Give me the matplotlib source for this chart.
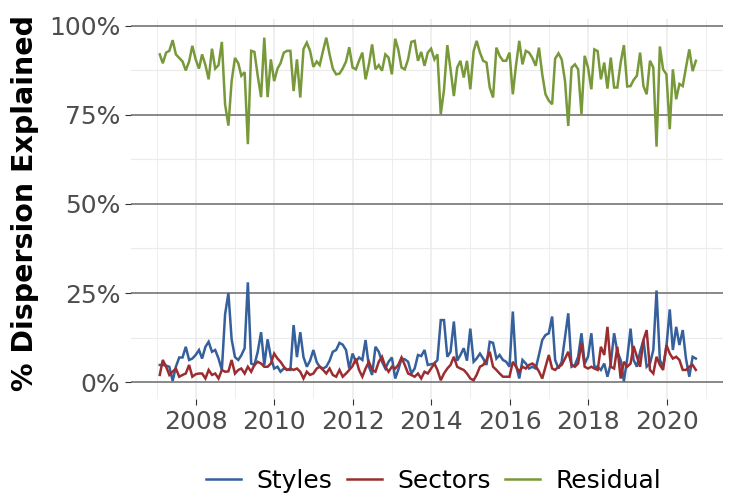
import matplotlib
matplotlib.use("Agg")
import matplotlib.pyplot as plt
import matplotlib.dates as mdates
import pandas as pd

# monthly, Jan 2007 .. Sep 2020 (month-end)
dates = pd.date_range("2007-01-31", periods=165, freq="ME")

styles = [4.8, 4.8, 4.6, 4.3, 0.3, 4.3, 6.9, 6.9, 9.9, 6.2, 6.6, 7.6, 9.0, 6.6, 9.9, 11.3, 8.5, 9.0, 6.6, 3.4,
          19.0, 25.0, 12.0, 7.0, 6.2, 7.5, 9.5, 28.0, 5.2, 4.8, 8.5, 14.0, 4.8, 12.0, 7.0, 3.8, 4.3, 2.9, 3.8, 3.5,
          3.4, 16.0, 7.0, 14.0, 7.0, 4.3, 6.0, 9.0, 5.6, 4.3, 3.8, 4.3, 6.0, 8.5, 9.0, 11.0, 10.5, 9.0, 3.8, 8.0,
          5.7, 6.9, 6.2, 11.8, 4.3, 2.0, 9.9, 8.5, 5.7, 3.8, 5.7, 6.9, 1.0, 3.4, 6.6, 6.4, 5.7, 2.4, 3.8, 7.6,
          7.3, 9.0, 4.8, 5.0, 5.2, 6.2, 17.4, 17.4, 7.1, 8.5, 17.0, 6.0, 7.6, 9.5, 6.0, 15.0, 5.7, 6.6, 8.0, 6.6,
          4.8, 11.3, 11.0, 6.6, 7.6, 6.2, 5.7, 4.3, 19.8, 4.8, 1.0, 6.2, 5.2, 3.8, 4.3, 3.8, 7.6, 11.8, 13.2, 13.7,
          18.4, 6.2, 3.8, 5.7, 12.7, 19.3, 4.3, 4.8, 7.1, 13.7, 5.2, 7.1, 13.7, 4.3, 4.3, 3.4, 5.2, 1.5, 5.2, 13.7,
          8.5, 6.2, 0.2, 6.6, 15.0, 6.2, 4.3, 8.5, 11.8, 4.3, 5.2, 9.0, 25.7, 6.2, 4.3, 9.9, 20.4, 9.0, 15.5, 10.4,
          14.6, 6.6, 1.5, 7.1, 6.6]

sectors = [2.0, 6.2, 4.3, 2.0, 2.9, 3.8, 1.5, 2.0, 2.4, 4.8, 1.5, 2.2, 2.4, 2.4, 1.0, 3.4, 2.0, 2.4, 1.0, 3.4,
           2.9, 3.0, 6.2, 2.4, 3.4, 3.8, 2.4, 4.3, 2.9, 4.8, 5.7, 5.2, 4.3, 4.3, 5.2, 8.0, 6.6, 5.7, 4.3, 3.4,
           3.8, 3.4, 3.8, 2.9, 1.0, 2.9, 2.0, 2.4, 3.8, 4.3, 3.4, 2.4, 3.8, 2.0, 1.5, 3.4, 1.5, 2.4, 3.4, 4.5,
           6.6, 3.4, 1.5, 3.8, 5.7, 3.4, 2.9, 5.7, 7.1, 4.3, 2.9, 4.3, 3.8, 4.8, 6.9, 4.8, 2.4, 2.0, 1.5, 2.4,
           1.0, 2.9, 2.4, 3.8, 5.2, 3.4, 0.5, 2.4, 3.8, 4.8, 7.1, 4.3, 3.8, 3.4, 2.4, 1.0, 0.5, 2.0, 4.3, 4.8,
           6.2, 8.5, 4.3, 3.4, 2.4, 1.5, 1.5, 1.5, 5.7, 4.3, 2.9, 4.3, 3.8, 4.8, 5.2, 4.5, 3.0, 1.0, 4.3, 7.6,
           3.8, 3.4, 4.3, 4.8, 6.6, 8.5, 4.8, 4.3, 5.2, 10.9, 4.3, 3.8, 4.3, 3.8, 3.4, 9.9, 7.6, 15.5, 4.3, 3.8,
           9.9, 1.0, 5.7, 4.3, 5.2, 10.1, 7.1, 4.3, 11.8, 14.6, 3.4, 2.4, 7.1, 4.8, 3.4, 10.4, 8.0, 6.6, 7.1, 6.2,
           3.4, 3.4, 4.3, 4.8, 3.4]

residual = [92.0, 89.5, 92.5, 93.0, 96.0, 92.0, 91.0, 90.0, 87.5, 90.0, 94.4, 90.6, 88.0, 92.0, 89.0, 85.0, 93.6, 88.0, 89.0, 95.5,
            78.0, 72.0, 84.5, 91.0, 89.5, 86.0, 87.0, 66.8, 93.0, 92.7, 86.0, 80.0, 96.7, 80.0, 90.6, 84.5, 88.0, 89.5, 92.5, 93.0,
            93.0, 81.7, 90.6, 79.9, 93.5, 95.3, 93.0, 88.5, 90.0, 89.0, 93.0, 96.7, 92.0, 88.0, 86.4, 86.6, 88.0, 90.0, 94.0, 88.3,
            87.8, 90.2, 92.5, 85.0, 89.2, 94.8, 87.8, 89.0, 87.4, 92.0, 91.1, 86.4, 96.4, 93.4, 88.3, 87.8, 90.6, 95.5, 95.8, 90.2,
            92.7, 88.8, 92.5, 93.6, 90.6, 92.0, 75.2, 82.0, 94.6, 87.8, 80.3, 88.3, 90.2, 85.5, 90.2, 82.2, 92.9, 95.8, 92.5, 90.2,
            89.7, 82.7, 79.9, 93.9, 91.6, 90.2, 90.2, 92.5, 80.8, 88.8, 95.8, 89.2, 93.0, 92.5, 91.0, 88.8, 93.9, 86.4, 80.8, 79.0,
            78.0, 90.8, 92.3, 90.6, 84.5, 71.9, 88.3, 89.2, 87.8, 75.2, 91.6, 88.3, 82.2, 93.4, 92.9, 85.0, 89.7, 82.4, 91.1, 82.7,
            82.7, 89.7, 94.6, 83.0, 83.1, 84.8, 86.0, 92.5, 83.1, 80.8, 90.2, 88.3, 66.1, 94.2, 87.8, 86.4, 71.0, 87.8, 79.4, 83.7,
            83.1, 88.3, 93.4, 87.3, 90.2]

series = ["Styles", "Sectors", "Residual"]
colors = {"Styles": "#35609b", "Sectors": "#9b2d30", "Residual": "#77993a"}

fig = plt.figure(figsize=(7.3, 4.94), dpi=100)
ax = fig.add_axes([0.179, 0.192, 0.811, 0.770])

for name, vals in zip(series, [styles, sectors, residual]):
    ax.plot(dates, vals, color=colors[name], lw=1.8, label=name, solid_joinstyle="miter")

ax.set_ylim(-4.8, 102)
ax.set_xlim(pd.Timestamp("2006-05-05"), pd.Timestamp("2021-06-07"))
ax.set_yticks([0, 25, 50, 75, 100])
ax.set_yticklabels(["0%", "25%", "50%", "75%", "100%"])
ax.set_yticks([12.5, 37.5, 62.5, 87.5], minor=True)
ax.xaxis.set_major_locator(mdates.YearLocator(2, month=1, day=1))
ax.xaxis.set_major_formatter(mdates.DateFormatter("%Y"))
ax.xaxis.set_minor_locator(mdates.YearLocator(1, month=1, day=1))

ax.grid(which="major", axis="y", color="#7f7f7f", lw=1.3)
ax.grid(which="minor", axis="y", color="#ebebeb", lw=0.8)
ax.grid(which="major", axis="x", color="#ebebeb", lw=1.1)
ax.grid(which="minor", axis="x", color="#ebebeb", lw=0.6)
ax.set_axisbelow(True)
for s in ax.spines.values():
    s.set_visible(False)

ax.tick_params(axis="both", which="major", labelsize=18, labelcolor="#4d4d4d",
               color="#333333", length=4, width=0.8)
ax.tick_params(axis="both", which="minor", length=0)
ax.set_ylabel("% Dispersion Explained", fontsize=20.5, fontweight="bold", labelpad=5)
ax.yaxis.set_label_coords(-0.155, 0.515)

fig.legend(loc="center", bbox_to_anchor=(0.594, 0.026), ncol=3, frameon=False,
           fontsize=18, handlelength=1.4, handletextpad=0.6, columnspacing=0.6)

fig.savefig("out.png", dpi=100)
